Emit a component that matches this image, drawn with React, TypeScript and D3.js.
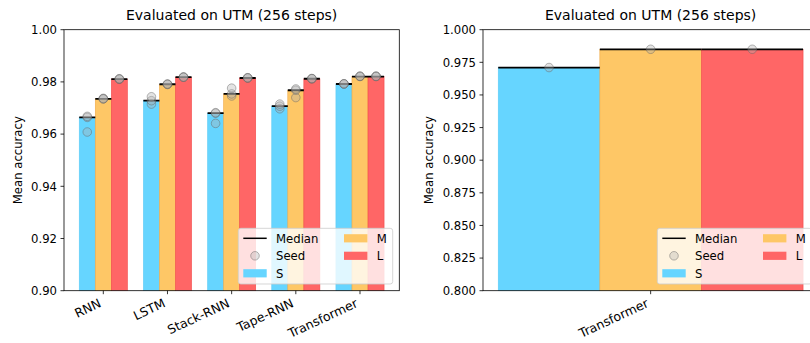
import React from "react";
import * as d3 from "d3";

// ---- data ----
const CATEGORIES = ["RNN", "LSTM", "Stack-RNN", "Tape-RNN", "Transformer"];
const SIZES = ["S", "M", "L"];

// median accuracy per architecture, one array per model size
const MEDIAN_S = [0.9664, 0.9728, 0.968, 0.9707, 0.9792];
const MEDIAN_M = [0.9735, 0.9791, 0.9754, 0.9768, 0.982];
const MEDIAN_L = [0.9811, 0.9818, 0.9815, 0.9812, 0.982];

// individual seeds per architecture
const SEEDS_S = [
  [0.9608, 0.9664, 0.9668],
  [0.9715, 0.9728, 0.9743],
  [0.9641, 0.968, 0.9682],
  [0.9697, 0.9707, 0.9715],
  [0.9792, 0.9792, 0.9793],
];
const SEEDS_M = [
  [0.9735, 0.9737, 0.9735],
  [0.979, 0.9791, 0.9792],
  [0.9746, 0.9754, 0.9776],
  [0.974, 0.9768, 0.9773],
  [0.9821, 0.9821, 0.9822],
];
const SEEDS_L = [
  [0.981, 0.9811, 0.9812],
  [0.9818, 0.9819, 0.9818],
  [0.9815, 0.9815, 0.9816],
  [0.9812, 0.9812, 0.9813],
  [0.9821, 0.9822, 0.9821],
];

// transformer-only evaluation
const TF_CATEGORIES = ["Transformer"];
const TF_MEDIAN_S = [0.9709];
const TF_MEDIAN_M = [0.985];
const TF_MEDIAN_L = [0.985];
const TF_SEEDS_S = [[0.971]];
const TF_SEEDS_M = [[0.985]];
const TF_SEEDS_L = [[0.985]];

const LEFT_TICKS = [0.9, 0.92, 0.94, 0.96, 0.98, 1.0];
const RIGHT_TICKS = [0.8, 0.825, 0.85, 0.875, 0.9, 0.925, 0.95, 0.975, 1.0];

const TITLE = "Evaluated on UTM (256 steps)";
const Y_LABEL = "Mean accuracy";

// ---- styling ----
const FONT = "DejaVu Sans";
const FS = 11.67;
const FS_X = 12.5;
const FILLS = ["#66d5ff", "#fec766", "#ff6666"];
const EDGES = ["#5ccbf5", "#f0a845", "#f24a4a"];
const AX_TOP = 29.7;
const AX_BOTTOM = 290.7;
const BAR_W = 0.25;
const ROT = 25;

type PanelProps = {
  id: string;
  x0: number;
  x1: number;
  categories: string[];
  medians: number[][];
  seeds: number[][][];
  yDomain: [number, number];
  ticks: number[];
  fmt: string;
};

function Panel({ id, x0, x1, categories, medians, seeds, yDomain, ticks, fmt }: PanelProps) {
  const n = categories.length;
  const span = n - 1 + 3 * BAR_W;
  const pad = 0.05 * span;
  const x = d3
    .scaleLinear()
    .domain([-1.5 * BAR_W - pad, n - 1 + 1.5 * BAR_W + pad])
    .range([x0, x1]);
  const y = d3.scaleLinear().domain(yDomain).range([AX_BOTTOM, AX_TOP]);
  const f = d3.format(fmt);
  const cx = (x0 + x1) / 2;
  const cy = (AX_TOP + AX_BOTTOM) / 2;

  // legend geometry, anchored to the axes' lower-right corner
  const lgRight = x1 - 6.6;
  const lgLeft = lgRight - 154.4;
  const lgTop = 228.3;
  const lgBottom = 284;
  const rows = [238.3, 255.8, 273.3];
  const col1 = lgLeft + 5;
  const col2 = lgLeft + 105.7;
  const hw = 23.4;

  const sin = Math.sin((ROT * Math.PI) / 180);
  const cos = Math.cos((ROT * Math.PI) / 180);

  return (
    <g>
      <defs>
        <clipPath id={id}>
          <rect x={x0} y={AX_TOP} width={x1 - x0} height={AX_BOTTOM - AX_TOP} />
        </clipPath>
      </defs>
      <g clipPath={`url(#${id})`}>
        {categories.map((c, i) =>
          SIZES.map((s, k) => {
            const v = medians[k][i];
            const bx0 = x(i + (k - 1) * BAR_W - BAR_W / 2);
            const bx1 = x(i + (k - 1) * BAR_W + BAR_W / 2);
            return (
              <rect
                key={`${c}-${s}`}
                x={bx0}
                y={y(v)}
                width={bx1 - bx0}
                height={AX_BOTTOM - y(v) + 2}
                fill={FILLS[k]}
                stroke={EDGES[k]}
                strokeWidth={0.6}
              />
            );
          })
        )}
        {categories.map((c, i) =>
          SIZES.map((s, k) => {
            const v = medians[k][i];
            const bx0 = x(i + (k - 1) * BAR_W - BAR_W / 2);
            const bx1 = x(i + (k - 1) * BAR_W + BAR_W / 2);
            return (
              <line
                key={`m-${c}-${s}`}
                x1={bx0}
                x2={bx1}
                y1={y(v)}
                y2={y(v)}
                stroke="#000"
                strokeWidth={1.8}
              />
            );
          })
        )}
        {categories.map((c, i) =>
          SIZES.map((s, k) =>
            seeds[k][i].map((v, j) => (
              <circle
                key={`s-${c}-${s}-${j}`}
                cx={x(i + (k - 1) * BAR_W)}
                cy={y(v)}
                r={4.3}
                fill="rgba(175,175,175,0.35)"
                stroke="rgba(100,100,100,0.45)"
                strokeWidth={1}
              />
            ))
          )
        )}
      </g>

      {/* legend */}
      <g>
        <rect
          x={lgLeft}
          y={lgTop}
          width={lgRight - lgLeft}
          height={lgBottom - lgTop}
          rx={2.5}
          fill="#fff"
          fillOpacity={0.8}
          stroke="#cccccc"
          strokeOpacity={0.8}
          strokeWidth={1}
        />
        <line x1={col1} x2={col1 + hw} y1={rows[0]} y2={rows[0]} stroke="#000" strokeWidth={1.5} />
        <circle
          cx={col1 + hw / 2}
          cy={rows[1]}
          r={4.3}
          fill="rgba(175,175,175,0.35)"
          stroke="rgba(100,100,100,0.45)"
          strokeWidth={1}
        />
        <rect x={col1} y={rows[2] - 4.1} width={hw} height={8.2} fill={FILLS[0]} />
        <rect x={col2} y={rows[0] - 4.1} width={hw} height={8.2} fill={FILLS[1]} />
        <rect x={col2} y={rows[1] - 4.1} width={hw} height={8.2} fill={FILLS[2]} />
        {[
          ["Median", col1, rows[0]],
          ["Seed", col1, rows[1]],
          [SIZES[0], col1, rows[2]],
          [SIZES[1], col2, rows[0]],
          [SIZES[2], col2, rows[1]],
        ].map(([t, lx, ly]) => (
          <text
            key={t as string}
            x={(lx as number) + hw + 9.3}
            y={(ly as number) + 4.2}
            fontSize={FS}
            fontFamily={FONT}
            fill="#000"
          >
            {t}
          </text>
        ))}
      </g>

      {/* spines */}
      <rect
        x={x0}
        y={AX_TOP}
        width={x1 - x0}
        height={AX_BOTTOM - AX_TOP}
        fill="none"
        stroke="#000"
        strokeWidth={0.8}
      />

      {/* y axis */}
      {ticks.map((t) => (
        <g key={t}>
          <line x1={x0 - 3.5} x2={x0} y1={y(t)} y2={y(t)} stroke="#000" strokeWidth={0.8} />
          <text
            x={x0 - 7}
            y={y(t) + 4.2}
            textAnchor="end"
            fontSize={FS}
            fontFamily={FONT}
            fill="#000"
          >
            {f(t)}
          </text>
        </g>
      ))}

      {/* x axis */}
      {categories.map((c, i) => {
        const tx = x(i);
        const ax = tx - 0.24 * FS_X * sin;
        const ay = AX_BOTTOM + 7 + 0.76 * FS_X * cos;
        return (
          <g key={c}>
            <line x1={tx} x2={tx} y1={AX_BOTTOM} y2={AX_BOTTOM + 3.5} stroke="#000" strokeWidth={0.8} />
            <text
              transform={`translate(${ax},${ay}) rotate(${-ROT})`}
              textAnchor="end"
              fontSize={FS_X}
              fontFamily={FONT}
              fill="#000"
            >
              {c}
            </text>
          </g>
        );
      })}

      <text
        transform={`translate(${x0 - (fmt === ".2f" ? 42.5 : 50)},${cy}) rotate(-90)`}
        textAnchor="middle"
        fontSize={FS}
        fontFamily={FONT}
        fill="#000"
      >
        {Y_LABEL}
      </text>
      <text x={cx} y={19.8} textAnchor="middle" fontSize={14} fontFamily={FONT} fill="#000">
        {TITLE}
      </text>
    </g>
  );
}

export default function App() {
  return (
    <div style={{ position: "absolute", left: 0, top: 0 }}>
      <svg width={810} height={343} style={{ display: "block", background: "#fff" }}>
        <Panel
          id="clip-left"
          x0={64}
          x1={399.3}
          categories={CATEGORIES}
          medians={[MEDIAN_S, MEDIAN_M, MEDIAN_L]}
          seeds={[SEEDS_S, SEEDS_M, SEEDS_L]}
          yDomain={[0.9, 1.0]}
          ticks={LEFT_TICKS}
          fmt=".2f"
        />
        <Panel
          id="clip-right"
          x0={483}
          x1={818.3}
          categories={TF_CATEGORIES}
          medians={[TF_MEDIAN_S, TF_MEDIAN_M, TF_MEDIAN_L]}
          seeds={[TF_SEEDS_S, TF_SEEDS_M, TF_SEEDS_L]}
          yDomain={[0.8, 1.0]}
          ticks={RIGHT_TICKS}
          fmt=".3f"
        />
      </svg>
    </div>
  );
}
